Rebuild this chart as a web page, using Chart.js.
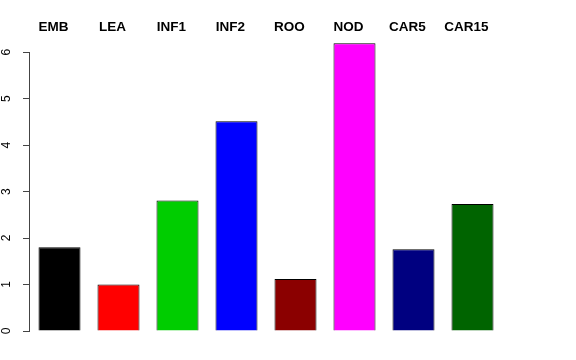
<!DOCTYPE html>
<html>
<head>
<meta charset="utf-8">
<script src="https://cdn.jsdelivr.net/npm/chart.js@4/dist/chart.umd.min.js"></script>
<style>
  html, body { margin: 0; padding: 0; background: #fff; }
  canvas { display: block; }
</style>
</head>
<body>
<canvas id="barChart" width="576" height="360"></canvas>
<script>
// Tissue labels and values
const tissues = ['EMB', 'LEA', 'INF1', 'INF2', 'ROO', 'NOD', 'CAR5', 'CAR15'];
const values = [1.80, 1.00, 2.81, 4.51, 1.12, 6.19, 1.76, 2.73];
const barColors = ['#000000', '#ff0000', '#00cd00', '#0000ff', '#8b0000', '#ff00ff', '#000080', '#006400'];
const yTicks = [0, 1, 2, 3, 4, 5, 6];

// R-style axis line, only from first to last tick
const axisLine = {
    id: 'axisLine',
    afterDraw(chart) {
        const y = chart.scales.y;
        const ctx = chart.ctx;
        const x = Math.round(y.right) - 0.5;
        ctx.save();
        ctx.strokeStyle = '#444';
        ctx.lineWidth = 1;
        ctx.beginPath();
        ctx.moveTo(x, y.getPixelForValue(yTicks[0]));
        ctx.lineTo(x, y.getPixelForValue(yTicks[yTicks.length - 1]));
        ctx.stroke();
        ctx.restore();
    }
};

new Chart(document.getElementById('barChart'), {
    type: 'bar',
    data: {
        labels: tissues,
        datasets: [{
            data: values,
            backgroundColor: barColors,
            borderColor: '#000',
            borderWidth: 1,
            categoryPercentage: 1,
            barPercentage: 0.712
        }]
    },
    options: {
        responsive: false,
        animation: false,
        layout: { padding: { left: 0, right: 74, top: 0, bottom: 29 } },
        plugins: {
            legend: { display: false },
            tooltip: { enabled: false }
        },
        scales: {
            x: {
                position: 'top',
                grid: { display: false, drawTicks: false },
                border: { display: false },
                ticks: {
                    color: '#000',
                    font: { family: 'Liberation Sans', size: 13.5, weight: 'bold' },
                    padding: 5,
                    labelOffset: -6,
                    maxRotation: 0,
                    autoSkip: false
                },
                afterFit: (scale) => { scale.height = 40; }
            },
            y: {
                min: 0,
                max: 6.26,
                afterBuildTicks: (scale) => {
                    scale.ticks = yTicks.map(v => ({ value: v }));
                },
                grid: {
                    drawOnChartArea: false,
                    drawTicks: true,
                    tickLength: 7,
                    color: '#444'
                },
                border: { display: false },
                ticks: {
                    color: '#000',
                    font: { family: 'Liberation Sans', size: 12 },
                    minRotation: 90,
                    maxRotation: 90,
                    crossAlign: 'center',
                    padding: 13
                },
                afterFit: (scale) => { scale.width = 30; }
            }
        }
    },
    plugins: [axisLine]
});
</script>
</body>
</html>
